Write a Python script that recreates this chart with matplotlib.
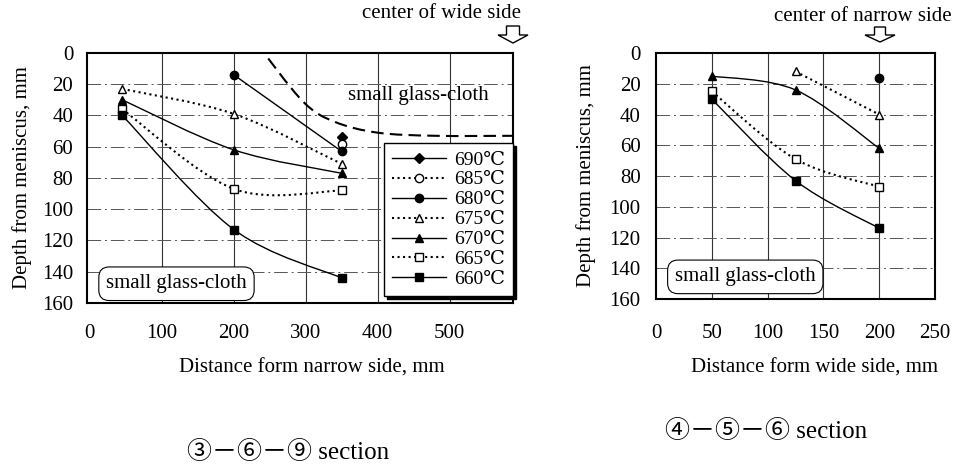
import numpy as np
import matplotlib as mpl
mpl.use('Agg')
import matplotlib.pyplot as plt
from matplotlib.lines import Line2D
from matplotlib.path import Path
from matplotlib.patches import PathPatch, Polygon

mpl.rcParams['font.family'] = ['Liberation Serif', 'DejaVu Serif', 'DejaVu Sans']
mpl.rcParams['font.size'] = 15

# ---- data ----
temps = ['690', '685', '680', '675', '670', '665', '660']
markers = ['D', 'o', 'o', '^', '^', 's', 's']
filled = [True, False, True, False, True, False, True]

# 3-6-9 section (distance from narrow side)
x_narrow = {
    '690': [350],
    '685': [350],
    '680': [200, 350],
    '675': [45, 200, 350],
    '670': [45, 200, 350],
    '665': [45, 200, 350],
    '660': [45, 200, 350],
}
d_narrow = {
    '690': [54],
    '685': [58],
    '680': [14, 63],
    '675': [23, 39, 71],
    '670': [30, 62, 77],
    '665': [36, 87, 88],
    '660': [40, 113, 144],
}
# boundary of small glass-cloth (dashed)
bound_x = [232, 296, 340, 400, 480, 590]
bound_y = [-6, 31, 44, 51, 53, 53]

# 4-5-6 section (distance from wide side)
x_wide = {
    '680': [200],
    '675': [125, 200],
    '670': [50, 125, 200],
    '665': [50, 125, 200],
    '660': [50, 125, 200],
}
d_wide = {
    '680': [16],
    '675': [12, 40],
    '670': [15, 24, 62],
    '665': [25, 69, 87],
    '660': [30, 83, 114],
}


def smooth_path(x, y):
    # Catmull-Rom through the points, drawn as cubic Bezier segments
    p = np.column_stack([x, y]).astype(float)
    n = len(p)
    verts = [p[0]]
    codes = [Path.MOVETO]
    for i in range(n - 1):
        p0 = p[i - 1] if i > 0 else p[i]
        p3 = p[i + 2] if i + 2 < n else p[i + 1]
        c1 = p[i] + (p[i + 1] - p0) / 6.0
        c2 = p[i + 1] - (p3 - p[i]) / 6.0
        verts += [c1, c2, p[i + 1]]
        codes += [Path.CURVE4] * 3
    return Path(verts, codes)


def style(t):
    i = temps.index(t)
    ls = '-' if filled[i] else ':'
    fc = 'black' if filled[i] else 'white'
    ms = 5 if markers[i] == 'D' else 6
    return ls, markers[i], fc, ms


def draw_series(ax, xs, ds):
    for t in temps:
        if t not in xs:
            continue
        ls, mk, fc, ms = style(t)
        if len(xs[t]) > 1:
            ax.add_patch(PathPatch(smooth_path(xs[t], ds[t]), fill=False,
                                   lw=1.0 if ls == '-' else 1.5,
                                   linestyle=ls, edgecolor='black', zorder=3))
        ax.plot(xs[t], ds[t], linestyle='none', marker=mk, ms=ms,
                mfc=fc, mec='black', mew=1.0, zorder=4)


def frame(ax, xlim, xticks):
    ax.set_xlim(*xlim)
    ax.set_ylim(160, 0)
    ax.set_xticks(xticks)
    ax.set_yticks(np.arange(0, 161, 20))
    ax.tick_params(length=0)
    for t in xticks[1:]:
        ax.axvline(t, color='#333333', lw=0.8, zorder=1)
    for v in range(20, 160, 20):
        ax.axhline(v, color='#555555', lw=0.7, linestyle=(0, (14, 4, 2, 4)), zorder=1)
    for s in ax.spines.values():
        s.set_linewidth(1.5)
    ax.set_ylabel('Depth from meniscus, mm')


def block_arrow(fig, xc, ytop, yneck, ytip, shaft=12, head=30):
    # hollow down arrow, given in pixels from the top of the figure
    H = fig.get_figheight() * fig.dpi
    pts = [(xc - shaft / 2, ytop), (xc + shaft / 2, ytop), (xc + shaft / 2, yneck),
           (xc + head / 2, yneck), (xc, ytip), (xc - head / 2, yneck),
           (xc - shaft / 2, yneck)]
    pts = [(px / (fig.get_figwidth() * fig.dpi), 1 - py / H) for px, py in pts]
    fig.patches.append(Polygon(pts, closed=True, fc='white', ec='black', lw=1.0,
                               transform=fig.transFigure, figure=fig))


fig = plt.figure(figsize=(9.67, 4.68), dpi=100)
sec_font = ['Liberation Serif', 'Noto Sans CJK JP', 'DejaVu Sans']

# ---------- left: 3-6-9 section ----------
ax1 = fig.add_axes([0.090, 0.3526, 0.4405, 0.5342])
frame(ax1, (-4, 588), [0, 100, 200, 300, 400, 500])
ax1.tick_params(axis='x', pad=15)
ax1.tick_params(axis='y', pad=10)
ax1.yaxis.set_label_coords(-0.13, 0.5)
draw_series(ax1, x_narrow, d_narrow)
ax1.add_patch(PathPatch(smooth_path(bound_x, bound_y), fill=False, lw=1.5,
                        linestyle=(0, (6, 3)), edgecolor='black', zorder=2))
ax1.text(457, 27, 'small glass-cloth', ha='center', va='center')
ax1.text(0.21, 0.077, 'small glass-cloth', transform=ax1.transAxes,
         ha='center', va='center',
         bbox=dict(boxstyle='round,pad=0.35,rounding_size=0.5', fc='white',
                   ec='black', lw=0.8))

handles = []
for t in temps:
    ls, mk, fc, ms = style(t)
    handles.append(Line2D([], [], color='black', lw=1.0 if ls == '-' else 1.5,
                          linestyle=ls, marker=mk, ms=ms, mfc=fc, mec='black'))
leg = ax1.legend(handles, [t + '℃' for t in temps], loc='lower right',
                 bbox_to_anchor=(1.0, 0.028), borderaxespad=0.0,
                 fancybox=False, edgecolor='black', framealpha=1,
                 shadow={'color': 'black', 'alpha': 1},
                 handlelength=2.8, handletextpad=0.4, labelspacing=0.12,
                 borderpad=0.4, fontsize=14)
leg.get_frame().set_linewidth(1.0)
block_arrow(fig, 513, 26, 35, 43, shaft=13, head=30)
fig.text(0.457, 0.972, 'center of wide side', ha='center', va='center')
fig.text(0.3226, 0.213, 'Distance form narrow side, mm', ha='center', va='center')
fig.text(0.2978, 0.034, '③－⑥－⑨ section', ha='center', va='center',
         family=sec_font, fontsize=18)

# ---------- right: 4-5-6 section ----------
ax2 = fig.add_axes([0.6784, 0.3611, 0.2885, 0.5256])
frame(ax2, (0, 250), [0, 50, 100, 150, 200, 250])
ax2.tick_params(axis='x', pad=18)
ax2.tick_params(axis='y', pad=11)
ax2.yaxis.set_label_coords(-0.215, 0.5)
draw_series(ax2, x_wide, d_wide)
ax2.text(0.32, 0.09, 'small glass-cloth', transform=ax2.transAxes,
         ha='center', va='center',
         bbox=dict(boxstyle='round,pad=0.35,rounding_size=0.5', fc='white',
                   ec='black', lw=0.8))
block_arrow(fig, 880, 27, 35, 42, shaft=11, head=30)
fig.text(0.8925, 0.964, 'center of narrow side', ha='center', va='center')
fig.text(0.8418, 0.2137, 'Distance form wide side, mm', ha='center', va='center')
fig.text(0.792, 0.077, '④－⑤－⑥ section', ha='center', va='center',
         family=sec_font, fontsize=18)

fig.savefig('out.png', dpi=100)
